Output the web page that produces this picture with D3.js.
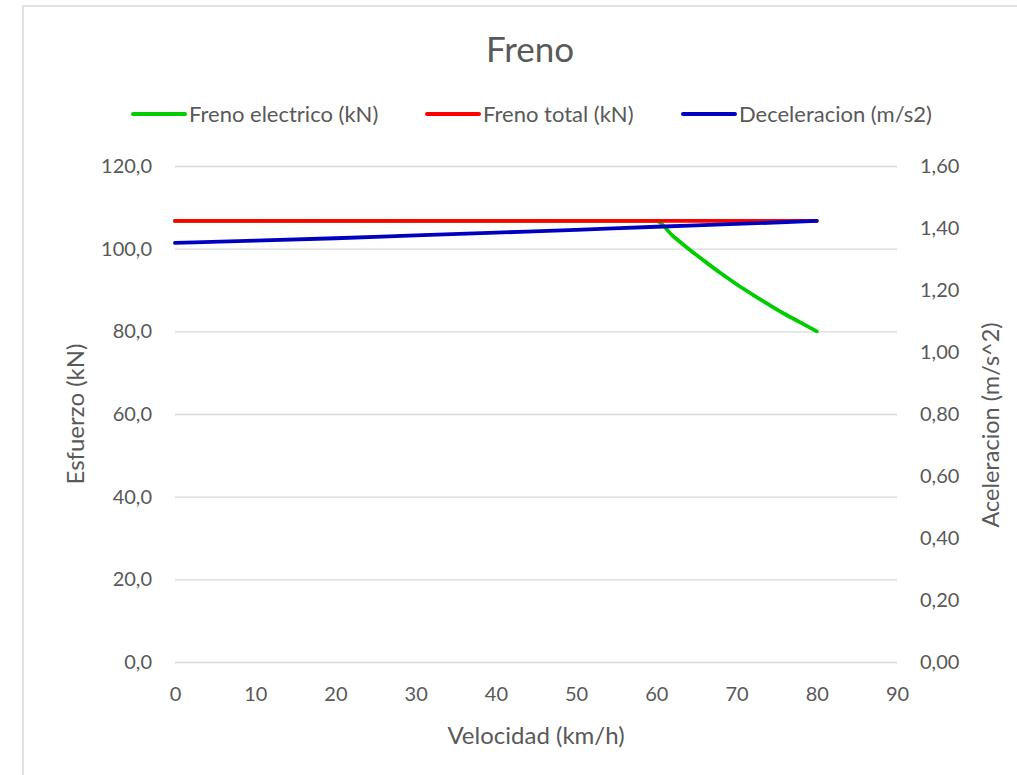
<!doctype html>
<html>
<head>
    <meta charset="UTF-8">
    <title>Freno</title>
    <script src="https://d3js.org/d3.v7.min.js"></script>
    <style>
        body { margin: 0; background: #fff; }
        text { font-family: Lato, "Open Sans", sans-serif; fill: #595959; }
    </style>
</head>
<body>
    <script>
        // datos
        var velElec = [0, 10, 20, 30, 40, 50, 60, 62, 64, 66, 68, 70, 72, 74, 76, 78, 80];
        var frenoElec = [106.7, 106.7, 106.7, 106.7, 106.7, 106.7, 106.7, 103.2, 100.0, 97.0, 94.1, 91.4, 88.9, 86.5, 84.2, 82.1, 80.0];
        var velTotal = [0, 10, 20, 30, 40, 50, 60, 70, 80];
        var frenoTotal = [106.7, 106.7, 106.7, 106.7, 106.7, 106.7, 106.7, 106.7, 106.7];
        var decel = [1.352, 1.359, 1.367, 1.376, 1.385, 1.394, 1.404, 1.413, 1.423];
        var xTicks = [0, 10, 20, 30, 40, 50, 60, 70, 80, 90];
        var yTicks = [0, 20, 40, 60, 80, 100, 120];
        var y2Ticks = [0, 0.2, 0.4, 0.6, 0.8, 1.0, 1.2, 1.4, 1.6];

        var w = 1017, h = 775;
        var m = { l: 175, r: 897, t: 166, b: 662 };

        var svg = d3.select("body").append("svg")
            .attr("width", w)
            .attr("height", h);

        // borde del area del grafico
        svg.append("rect")
            .attr("x", 23).attr("y", 6)
            .attr("width", 1100).attr("height", 900)
            .attr("fill", "#fff")
            .attr("stroke", "#d9d9d9")
            .attr("stroke-width", 1.5);

        var x = d3.scaleLinear().domain([0, 90]).range([m.l, m.r]);
        var y = d3.scaleLinear().domain([0, 120]).range([m.b, m.t]);
        var y2 = d3.scaleLinear().domain([0, 1.6]).range([m.b, m.t]);

        var coma = function(f) {
            return function(d) { return d3.format(f)(d).replace(".", ","); };
        };

        // rejilla
        svg.append("g")
            .attr("transform", "translate(" + m.l + ",0)")
            .call(d3.axisLeft(y).tickValues(yTicks).tickSize(-(m.r - m.l)).tickFormat(""))
            .call(function(g) {
                g.select(".domain").remove();
                g.selectAll("line").attr("stroke", "#d9d9d9").attr("stroke-width", 1.3);
            });

        // eje izquierdo
        svg.append("g")
            .attr("transform", "translate(" + m.l + ",0)")
            .call(d3.axisLeft(y).tickValues(yTicks).tickSize(0).tickPadding(23).tickFormat(coma(".1f")))
            .call(function(g) {
                g.select(".domain").remove();
                g.selectAll("text").style("font-size", "20px").attr("fill", "#595959");
            });

        // eje derecho
        svg.append("g")
            .attr("transform", "translate(" + m.r + ",0)")
            .call(d3.axisRight(y2).tickValues(y2Ticks).tickSize(0).tickPadding(23).tickFormat(coma(".2f")))
            .call(function(g) {
                g.select(".domain").remove();
                g.selectAll("text").style("font-size", "20px").attr("fill", "#595959");
            });

        // eje x
        svg.append("g")
            .attr("transform", "translate(0," + m.b + ")")
            .call(d3.axisBottom(x).tickValues(xTicks).tickSize(0).tickPadding(25).tickFormat(d3.format("d")))
            .call(function(g) {
                g.select(".domain").remove();
                g.selectAll("text").style("font-size", "20px").attr("fill", "#595959");
            });

        // lineas
        var lineaIzq = d3.line()
            .x(function(d) { return x(d[0]); })
            .y(function(d) { return y(d[1]); });
        var lineaDer = d3.line()
            .x(function(d) { return x(d[0]); })
            .y(function(d) { return y2(d[1]); });

        var series = [
            { datos: d3.zip(velElec, frenoElec), linea: lineaIzq, color: "#00cc00" },
            { datos: d3.zip(velTotal, frenoTotal), linea: lineaIzq, color: "#ff0000" },
            { datos: d3.zip(velTotal, decel), linea: lineaDer, color: "#0000c0" }
        ];
        series.forEach(function(s) {
            svg.append("path")
                .attr("d", s.linea.curve(d3.curveMonotoneX)(s.datos))
                .attr("fill", "none")
                .attr("stroke", s.color)
                .attr("stroke-width", 3.8)
                .attr("stroke-linejoin", "round")
                .attr("stroke-linecap", "round");
        });

        // titulo
        svg.append("text")
            .attr("x", 530).attr("y", 62)
            .attr("text-anchor", "middle")
            .style("font-size", "35px")
            .text("Freno");

        // leyenda
        var leyenda = [
            { nombre: "Freno electrico (kN)", color: "#00cc00", x: 133 },
            { nombre: "Freno total (kN)", color: "#ff0000", x: 427 },
            { nombre: "Deceleracion (m/s2)", color: "#0000c0", x: 683 }
        ];
        var leg = svg.selectAll(".leg").data(leyenda).enter().append("g")
            .attr("transform", function(d) { return "translate(" + d.x + ",114)"; });
        leg.append("line")
            .attr("x1", 0).attr("x2", 52)
            .attr("stroke", function(d) { return d.color; })
            .attr("stroke-width", 4)
            .attr("stroke-linecap", "round");
        leg.append("text")
            .attr("x", 56).attr("dy", "0.35em")
            .style("font-size", "22px")
            .text(function(d) { return d.nombre; });

        // titulos de ejes
        svg.append("text")
            .attr("transform", "translate(84,414) rotate(-90)")
            .attr("text-anchor", "middle")
            .style("font-size", "24px")
            .text("Esfuerzo (kN)");
        svg.append("text")
            .attr("transform", "translate(999,425) rotate(-90)")
            .attr("text-anchor", "middle")
            .style("font-size", "23.5px")
            .text("Aceleracion (m/s^2)");
        svg.append("text")
            .attr("x", 536).attr("y", 744)
            .attr("text-anchor", "middle")
            .style("font-size", "24px")
            .text("Velocidad (km/h)");
    </script>
</body>
</html>
